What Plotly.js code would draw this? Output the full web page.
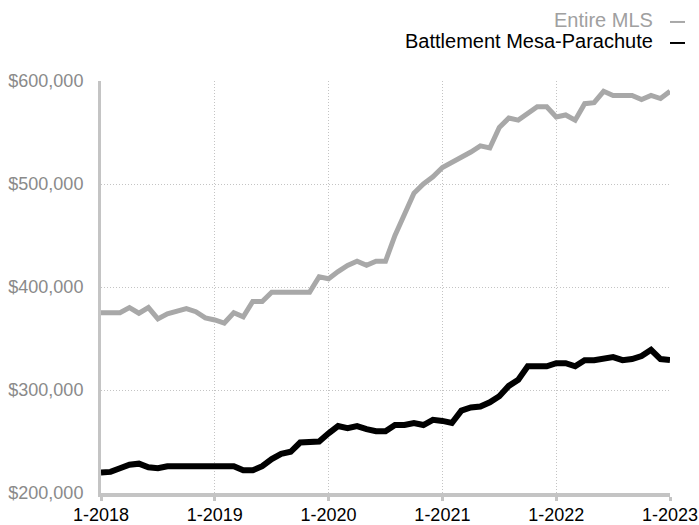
<!DOCTYPE html>
<html>
<head>
<meta charset="utf-8">
<script src="https://cdn.plot.ly/plotly-3.0.1.min.js"></script>
<style>
html,body{margin:0;padding:0;background:#fff;}
#chart{width:699px;height:525px;}
</style>
</head>
<body>
<div id="chart"></div>
<script>
// Month categories 1-2018 ... 1-2023
const monthLabels = [];
for (let y = 2018; y <= 2023; y++) {
  for (let m = 1; m <= 12; m++) {
    if (y === 2023 && m > 1) break;
    monthLabels.push(m + '-' + y);
  }
}
const yearTicks = ['1-2018','1-2019','1-2020','1-2021','1-2022','1-2023'];

const seriesNames = ['Entire MLS', 'Battlement Mesa-Parachute'];

const entireMLS = [
  375000,375000,375000,380000,374500,380000,369000,374000,377000,379000,376000,370000,
  368000,365000,375000,371000,386000,386000,395000,395000,396000,395000,395000,410000,
  408000,415000,421000,425000,421000,425000,425000,450000,470000,491000,500000,507000,
  516000,521000,525000,531000,537000,535000,555000,564000,562000,569000,575000,575000,
  565000,567000,562000,578000,579000,590000,586000,586000,586000,582000,586000,583000,
  590000
];

const battlement = [
  220000,220500,224000,227500,228500,225000,224000,226000,226000,226000,226000,226000,
  226000,226000,226000,222000,222000,226000,233000,238000,240000,249000,250000,250000,
  258000,265000,263000,265000,262000,260000,260000,266000,266000,268000,266000,271000,
  270000,268000,280000,283000,284000,288000,294000,304000,310000,323000,323000,323000,
  326000,326000,323000,329000,329000,330000,332000,329000,330000,333000,339000,330000,
  329000
];

const FONT = 'Liberation Sans, Arial, Helvetica, sans-serif';

const traces = [
  {
    x: monthLabels, y: entireMLS, name: seriesNames[0], type: 'scatter', mode: 'lines',
    line: {color: '#a8a8a8', width: 5}, hoverinfo: 'x+y'
  },
  {
    x: monthLabels, y: battlement, name: seriesNames[1], type: 'scatter', mode: 'lines',
    line: {color: '#000000', width: 6}, hoverinfo: 'x+y'
  }
];

const layout = {
  width: 699, height: 525,
  margin: {l: 101, r: 29, t: 81, b: 32, pad: 0},
  paper_bgcolor: '#ffffff', plot_bgcolor: '#ffffff',
  showlegend: false,
  font: {family: FONT, size: 18, color: '#000'},
  xaxis: {
    type: 'category',
    range: [0, 60],
    tickmode: 'array', tickvals: yearTicks, ticktext: yearTicks,
    showgrid: true, gridcolor: '#c4c4c4', gridwidth: 1, griddash: '1px,2px',
    showline: true, linecolor: '#c4c4c4', linewidth: 4,
    ticks: 'outside', ticklen: 4, tickwidth: 3, tickcolor: '#c4c4c4',
    ticklabelstandoff: -2,
    tickfont: {family: FONT, size: 18, color: '#000'},
    zeroline: false, fixedrange: true
  },
  yaxis: {
    range: [200000, 600000],
    tickvals: [200000, 300000, 400000, 500000, 600000],
    tickformat: '$,.0f',
    showgrid: true, gridcolor: '#c4c4c4', gridwidth: 1, griddash: '1px,2px',
    showline: true, linecolor: '#c4c4c4', linewidth: 3,
    ticks: '', ticklabelstandoff: 11,
    tickfont: {family: FONT, size: 18, color: '#8a8a8a'},
    zeroline: false, fixedrange: true
  },
  shapes: [
    {type: 'line', xref: 'paper', yref: 'paper', x0: 1.0, x1: 1.0264, y0: 1.1433, y1: 1.1433,
     line: {color: '#a8a8a8', width: 2}},
    {type: 'line', xref: 'paper', yref: 'paper', x0: 1.0, x1: 1.0264, y0: 1.0923, y1: 1.0923,
     line: {color: '#000000', width: 2}}
  ],
  annotations: [
    {xref: 'paper', yref: 'paper', x: 0.9736, y: 1.1486, xanchor: 'right', yanchor: 'middle',
     text: seriesNames[0], showarrow: false, font: {family: FONT, size: 20, color: '#a0a0a0'}},
    {xref: 'paper', yref: 'paper', x: 0.9736, y: 1.0964, xanchor: 'right', yanchor: 'middle',
     text: seriesNames[1], showarrow: false, font: {family: FONT, size: 20, color: '#000000'}}
  ]
};

Plotly.newPlot('chart', traces, layout, {displayModeBar: false, staticPlot: true});
</script>
</body>
</html>
